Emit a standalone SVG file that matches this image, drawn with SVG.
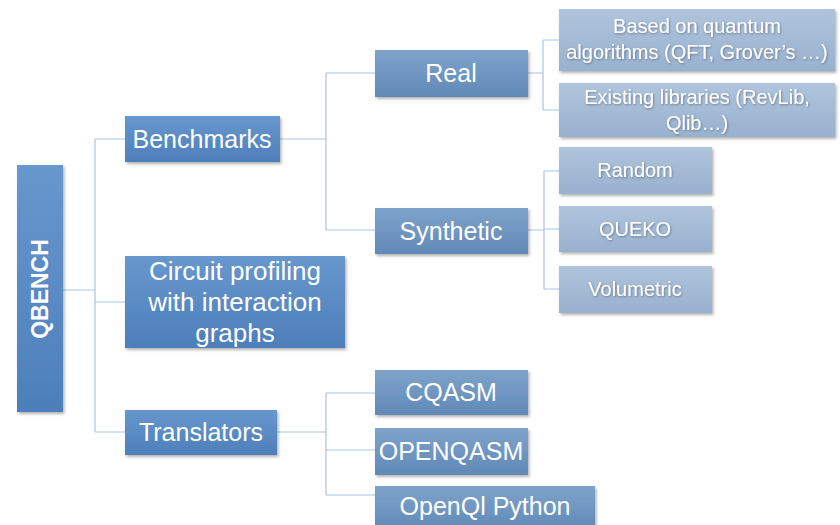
<svg xmlns="http://www.w3.org/2000/svg" width="840" height="525" viewBox="0 0 840 525">
<defs>
<linearGradient id="g1" x1="0" y1="0" x2="0" y2="1"><stop offset="0" stop-color="#6797cd"/><stop offset="1" stop-color="#4d7fba"/></linearGradient>
<linearGradient id="g2" x1="0" y1="0" x2="0" y2="1"><stop offset="0" stop-color="#7ea3cb"/><stop offset="1" stop-color="#6189b7"/></linearGradient>
<linearGradient id="g3" x1="0" y1="0" x2="0" y2="1"><stop offset="0" stop-color="#b0c4dc"/><stop offset="1" stop-color="#98b1cf"/></linearGradient>
<filter id="sh" x="-10%" y="-10%" width="130%" height="140%"><feDropShadow dx="1.5" dy="2" stdDeviation="1.5" flood-color="#000" flood-opacity="0.3"/></filter>
<filter id="ts" x="-5%" y="-20%" width="110%" height="150%"><feDropShadow dx="0.8" dy="1" stdDeviation="0.8" flood-color="#000" flood-opacity="0.35"/></filter>
</defs>
<style>
.l1{fill:url(#g1);filter:url(#sh)}
.l2{fill:url(#g2);filter:url(#sh)}
.l3{fill:url(#g3);filter:url(#sh)}
text{fill:#fff;font-family:"Liberation Sans","DejaVu Sans",sans-serif;text-anchor:middle}
.t1{font-size:25px}
.t2{font-size:26px}
.t3{font-size:20px;filter:url(#ts)}
.c{fill:none;stroke:#a9c3e2;stroke-width:1.2}
</style>
<rect width="840" height="525" fill="#fff"/>
<g id="connectors" class="c">
<path d="M63 290H95M95 139V432M95 139H125M95 302H125M95 432H125"/>
<path d="M280 139H326M326 73V230M326 73H375M326 230H375"/>
<path d="M528 73H543M543 40V110M543 40H559M543 110H559"/>
<path d="M528 230H544M544 171V289M544 171H559M544 229H559M544 289H559"/>
<path d="M277 432H326M326 393V495M326 393H375M326 450H375M326 495H375"/>
</g>
<g id="qbench"><rect class="l1" x="17" y="165" width="46" height="247"/><text transform="translate(48 289) rotate(-90)" font-size="23" font-weight="bold">QBENCH</text></g>
<g id="benchmarks"><rect class="l1" x="125" y="116" width="155" height="46"/><text class="t1" x="202" y="148">Benchmarks</text></g>
<g id="circuit"><rect class="l1" x="125" y="256" width="220" height="92"/><text class="t2" x="235" y="280">Circuit profiling</text><text class="t2" x="235" y="311">with interaction</text><text class="t2" x="235" y="342">graphs</text></g>
<g id="translators"><rect class="l1" x="125" y="410" width="152" height="45"/><text class="t1" x="201" y="441">Translators</text></g>
<g id="real"><rect class="l2" x="375" y="50" width="153" height="47"/><text class="t1" x="451" y="82">Real</text></g>
<g id="synthetic"><rect class="l2" x="375" y="208" width="153" height="46"/><text class="t1" x="451" y="240">Synthetic</text></g>
<g id="cqasm"><rect class="l2" x="375" y="370" width="153" height="45"/><text class="t1" x="451" y="401">CQASM</text></g>
<g id="openqasm"><rect class="l2" x="375" y="428" width="153" height="47"/><text class="t1" x="451" y="460">OPENQASM</text></g>
<g id="openql"><rect class="l2" x="375" y="486" width="220" height="45"/><text class="t1" x="485" y="515">OpenQl Python</text></g>
<g id="based"><rect class="l3" x="559" y="9" width="276" height="62"/><text class="t3" x="697" y="33">Based on quantum</text><text class="t3" x="697" y="59">algorithms (QFT, Grover’s …)</text></g>
<g id="existing"><rect class="l3" x="559" y="83" width="276" height="54"/><text class="t3" x="697" y="104">Existing libraries (RevLib,</text><text class="t3" x="697" y="130">Qlib…)</text></g>
<g id="random"><rect class="l3" x="559" y="147" width="153" height="47"/><text class="t3" x="635" y="177">Random</text></g>
<g id="queko"><rect class="l3" x="559" y="206" width="153" height="46"/><text class="t3" x="635" y="236">QUEKO</text></g>
<g id="volumetric"><rect class="l3" x="559" y="266" width="153" height="47"/><text class="t3" x="635" y="296">Volumetric</text></g>
</svg>
